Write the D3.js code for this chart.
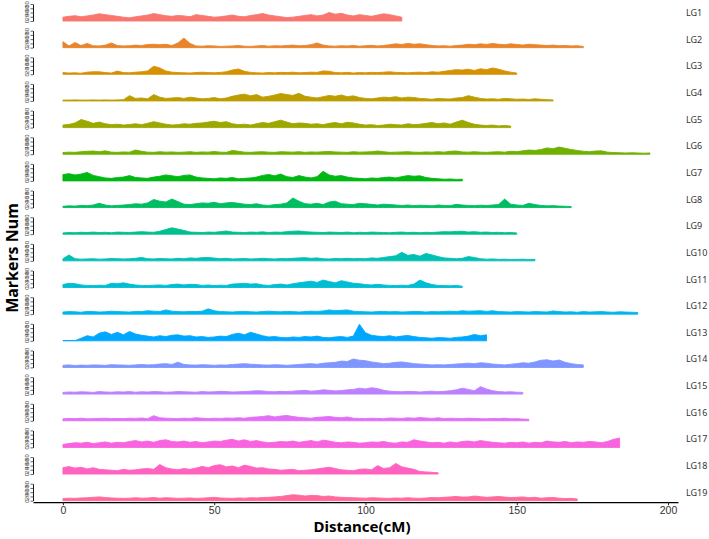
<!DOCTYPE html>
<html>
<head>
<meta charset="utf-8">
<script src="https://cdn.jsdelivr.net/npm/d3@7"></script>
<style>
  body { margin: 0; background: #fff; }
  svg { display: block; font-family: "Noto Sans", "Open Sans", sans-serif; }
</style>
</head>
<body>
<svg id="chart" width="709" height="539"></svg>
<script>
// marker counts per 2 cM bin
const binSize = 2;
const groups = ["LG1","LG2","LG3","LG4","LG5","LG6","LG7","LG8","LG9","LG10",
                "LG11","LG12","LG13","LG14","LG15","LG16","LG17","LG18","LG19"];
const yTicks = [0, 20, 40, 60, 80];
const xTicks = [0, 50, 100, 150, 200];

const lg1 = [18,22,25,20,24,28,34,30,26,22,18,15,20,24,28,35,30,25,22,26,24,20,30,26,22,18,20,24,28,22,
  20,26,30,35,28,24,20,16,18,22,26,30,24,28,40,32,36,28,24,30,26,22,28,34,30,24,18];
const lg2 = [28,8,24,10,20,9,8,12,22,10,8,9,12,10,15,16,14,16,10,22,45,20,8,7,9,8,6,7,8,10,
  7,6,8,10,7,9,8,10,12,9,10,14,22,12,8,7,9,8,10,7,9,11,8,10,14,18,15,20,16,18,
  14,10,8,9,7,10,12,16,14,18,15,20,16,14,18,15,12,16,14,12,10,12,9,10,8,9,6];
const lg3 = [8,6,7,5,10,12,12,8,6,15,8,7,10,12,16,38,30,16,10,8,7,6,8,10,8,7,9,12,20,25,
  14,9,7,6,8,7,9,8,10,7,8,10,9,16,14,8,7,9,6,8,7,9,8,10,12,9,8,7,9,10,
  8,12,10,14,18,22,20,24,18,26,22,30,24,16,10,6];
const lg4 = [4,4,5,4,4,5,4,5,4,5,6,25,12,14,10,30,18,12,14,16,12,18,14,10,12,16,10,14,22,28,
  32,24,30,18,22,28,35,30,26,36,22,18,14,20,26,22,28,20,24,16,12,10,14,18,16,20,14,18,16,12,
  10,8,12,10,9,14,16,25,18,12,9,10,8,12,10,8,9,7,10,8,6,5];
const lg5 = [12,15,22,38,30,20,26,18,14,16,12,15,18,14,20,28,22,16,12,14,18,16,20,22,26,30,24,28,18,14,
  16,12,18,24,20,28,35,26,18,22,20,16,18,14,20,24,18,25,22,16,12,14,10,12,16,14,12,18,14,16,
  20,24,18,22,16,26,35,24,16,12,10,12,8,10,7];
const lg6 = [8,10,9,12,14,15,12,16,10,9,11,10,20,14,10,9,12,10,11,9,10,12,9,11,10,13,10,9,18,14,
  10,9,11,12,10,9,12,11,10,12,9,11,10,12,13,11,10,9,12,10,11,12,15,12,9,10,11,12,10,9,
  11,10,12,10,14,15,11,10,12,10,9,11,12,10,14,12,16,20,18,22,30,26,34,28,22,18,14,12,15,16,
  10,8,7,6,7,6,5,6];
const lg7 = [30,34,28,32,40,26,20,14,12,16,18,25,16,14,12,18,22,28,24,20,26,28,18,14,12,10,14,12,16,10,
  12,14,18,26,30,24,32,20,16,25,18,14,20,45,28,22,25,18,14,12,10,14,12,16,18,14,20,25,22,24,
  16,12,10,8,9,7,8];
const lg8 = [6,8,7,10,9,12,20,12,8,10,12,14,18,16,22,38,30,26,40,28,16,14,18,22,20,25,18,22,24,20,
  16,14,18,12,10,14,16,22,45,30,18,16,20,14,26,30,18,16,14,20,18,15,12,16,14,12,10,12,9,11,
  10,8,12,10,9,15,12,10,9,11,10,12,14,40,16,12,10,20,14,10,8,9,7,6,5];
const lg9 = [6,8,7,9,8,10,8,9,7,10,9,8,10,12,10,9,14,22,30,24,18,10,9,8,10,9,12,15,10,9,
  8,10,9,11,8,10,9,12,14,15,12,10,9,8,10,9,8,10,7,9,8,10,9,8,7,9,10,8,9,7,
  9,8,10,12,11,13,14,10,12,9,10,8,9,7,8,6];
const lg10 = [10,28,10,8,9,10,8,9,11,10,9,10,12,16,10,9,11,10,9,12,10,14,12,15,16,13,10,12,9,10,
  11,9,10,12,10,9,11,10,12,14,15,12,14,10,9,11,10,12,10,11,10,14,12,16,20,24,40,26,30,22,
  35,28,20,14,12,10,12,20,16,10,8,9,7,8,6,7,8,6,7];
const lg11 = [14,20,18,12,10,9,11,10,20,18,22,16,12,10,9,11,12,10,14,16,12,15,14,10,12,9,11,10,16,18,
  20,16,18,12,10,14,16,12,18,22,26,30,24,35,28,22,32,26,20,18,14,12,15,12,10,9,11,10,16,35,
  22,14,10,9,8,10,6];
const lg12 = [10,12,11,9,13,12,10,11,14,12,11,10,13,12,16,14,12,20,14,12,11,13,12,14,25,16,12,11,10,12,
  13,11,10,12,14,12,11,13,12,10,12,14,13,15,20,16,18,20,14,12,11,10,12,13,11,12,10,11,13,12,
  10,12,11,13,14,12,16,14,15,16,13,16,12,11,10,12,11,10,12,11,10,15,12,10,11,9,12,10,11,12,
  10,9,11,10,9,8];
const lg13 = [1,1,1,12,24,18,36,42,30,40,28,44,32,26,22,18,24,20,26,28,22,24,18,20,16,18,22,20,30,36,
  28,40,32,24,18,20,16,14,18,16,20,18,22,16,14,18,20,16,22,78,38,26,22,20,24,18,22,25,20,16,
  14,12,15,14,12,16,18,22,30,24,28];
const lg14 = [10,12,9,11,10,12,11,10,13,12,11,10,12,14,12,13,16,18,14,25,14,12,11,13,12,10,12,11,14,16,
  18,15,14,12,11,13,12,10,12,14,16,18,15,20,22,24,30,28,40,34,32,26,22,18,20,24,26,22,18,16,
  14,12,13,12,14,16,18,20,18,22,20,16,14,12,15,18,22,20,26,34,36,30,35,24,18,14,12];
const lg15 = [8,10,9,11,10,8,12,10,9,11,10,12,9,11,10,12,11,9,10,12,11,10,9,12,10,11,13,12,10,11,
  12,14,16,15,12,11,13,12,14,16,18,14,16,20,18,15,17,20,22,28,24,30,26,18,14,12,11,13,12,10,
  12,14,11,13,16,20,28,22,16,35,24,16,12,10,11,9,8];
const lg16 = [9,11,10,12,9,10,11,12,10,11,10,12,11,13,10,24,14,12,11,10,12,11,14,12,10,12,11,13,12,14,
  12,16,18,20,24,18,22,25,20,16,14,12,16,18,20,16,14,18,12,11,10,12,11,10,13,12,11,14,12,15,
  13,11,14,10,12,11,10,12,11,10,9,11,10,12,9,10,8,7];
const lg17 = [14,18,22,20,24,18,22,26,20,24,22,28,32,26,30,24,32,36,28,26,30,24,28,22,26,30,28,34,38,30,
  36,28,32,26,22,24,28,26,30,24,28,32,26,34,30,24,22,26,24,20,22,26,24,28,22,20,26,24,36,30,
  26,22,24,20,26,22,28,30,26,32,28,24,22,20,24,22,26,20,24,22,30,26,24,28,22,26,24,28,26,22,
  28,38,44];
const lg18 = [30,35,28,32,24,30,22,20,18,16,22,18,20,24,26,22,45,30,24,20,26,22,28,36,30,40,44,34,38,30,
  42,36,28,30,24,22,18,20,22,16,18,20,24,28,32,26,20,18,16,22,24,20,40,26,30,50,34,28,22,12,
  10,8,6];
const lg19 = [10,12,11,13,14,16,18,15,13,12,11,12,14,12,13,15,12,14,13,11,12,13,11,12,14,16,13,12,11,13,
  12,14,13,15,16,18,20,24,28,26,22,25,24,20,22,18,16,15,14,13,12,14,13,12,11,13,12,14,12,11,
  13,15,14,16,18,20,17,18,22,19,16,18,20,17,15,16,18,14,16,12,14,15,12,10,11,8];

const series = [lg1,lg2,lg3,lg4,lg5,lg6,lg7,lg8,lg9,lg10,lg11,lg12,lg13,lg14,lg15,lg16,lg17,lg18,lg19];

// ggplot default hue palette, 19 levels
const palette = ["#F8766D","#E9842C","#D69100","#BC9D00","#9CA700","#6FB000","#00B813","#00BD61","#00C08E","#00C0B4",
                 "#00BDD4","#00B5EE","#00A7FF","#7F96FF","#BC81FF","#E26EF7","#F863DF","#FF62BF","#FF6A9A"];

const svg = d3.select("#chart");
const left = 33, right = 678,
      firstBase = 21, rowStep = 26.65,
      panelH = 17;

const x = d3.scaleLinear().domain([-9.9, 203.3]).range([left, right]);
const y = d3.scaleLinear().domain([0, 80]).range([0, -panelH]);

const area = d3.area()
  .x((d, j) => x(j * binSize))
  .y0(y(0))
  .y1(d => y(d));

groups.forEach((name, i) => {
  const base = firstBase + i * rowStep;
  const g = svg.append("g").attr("transform", `translate(0,${base})`);

  g.append("path")
    .datum(series[i])
    .attr("d", area)
    .attr("fill", palette[i])
    .attr("stroke", palette[i])
    .attr("stroke-width", 0.9)
    .attr("stroke-linejoin", "round");

  // per-panel y axis
  const ya = g.append("g")
    .attr("transform", `translate(${left},0)`)
    .call(d3.axisLeft(y).tickValues(yTicks).tickSize(2.5).tickSizeOuter(0));
  ya.select(".domain").attr("stroke", "#000").attr("stroke-width", 0.9);
  ya.selectAll(".tick line").attr("stroke", "#222").attr("stroke-width", 0.7);
  ya.selectAll(".tick text")
    .attr("x", 0).attr("dy", 0)
    .attr("transform", "translate(-4.5,0) rotate(-90)")
    .attr("text-anchor", "middle")
    .attr("font-size", 6)
    .attr("fill", "#444");

  // strip label on the right
  svg.append("text")
    .attr("x", 686)
    .attr("y", base - 5)
    .attr("font-size", 9)
    .attr("fill", "#333")
    .text(name);
});

// x axis under the last panel
const axisY = firstBase + (groups.length - 1) * rowStep + 1.5;
const xa = svg.append("g")
  .attr("transform", `translate(0,${axisY})`)
  .call(d3.axisBottom(x).tickValues(xTicks).tickSize(3).tickSizeOuter(0));
xa.select(".domain").attr("stroke", "#000").attr("stroke-width", 1.2);
xa.selectAll(".tick line").attr("stroke", "#222");
xa.selectAll(".tick text").attr("font-size", 10.5).attr("fill", "#333").attr("dy", "0.55em");

svg.append("text")
  .attr("x", 362)
  .attr("y", 532)
  .attr("text-anchor", "middle")
  .attr("font-size", 15)
  .attr("font-weight", "bold")
  .text("Distance(cM)");

svg.append("text")
  .attr("transform", "translate(18,258) rotate(-90)")
  .attr("text-anchor", "middle")
  .attr("font-size", 16)
  .attr("font-weight", "bold")
  .text("Markers Num");
</script>
</body>
</html>
